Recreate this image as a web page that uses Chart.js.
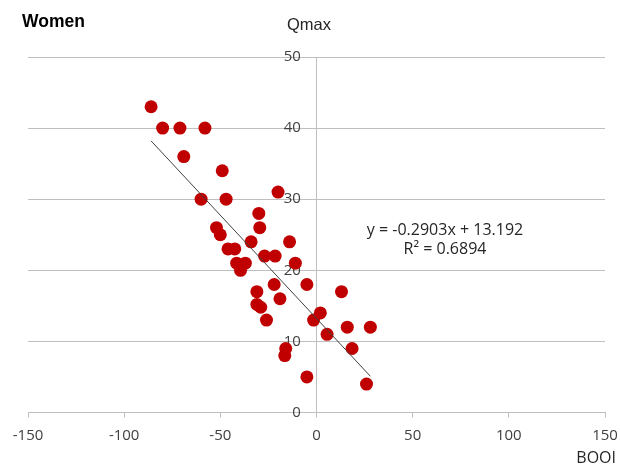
<!DOCTYPE html>
<html>
<head>
<meta charset="utf-8">
<script src="https://cdn.jsdelivr.net/npm/chart.js@4.4.1/dist/chart.umd.min.js"></script>
<style>
  html, body { margin: 0; padding: 0; background: #fff; }
</style>
</head>
<body>
<canvas id="scatter" width="620" height="466"></canvas>
<script>
  // BOOI (x) and Qmax (y) for each woman
  const booi = [-86, -80, -71, -58, -69, -49, -60, -47, -20, -30,
                -52, -50, -29.5, -34, -14, -46, -42.5, -27, -21.5, -41.5,
                -37, -39.5, -11, -5, -22, -31, 13, -19, -31, -29,
                -26, 2, -1.5, 5.5, 16, 28, 18.5, -16, -16.5, -5, 26];
  const qmax = [43, 40, 40, 40, 36, 34, 30, 30, 31, 28,
                26, 25, 26, 24, 24, 23, 23, 22, 22, 21,
                21, 20, 21, 18, 18, 17, 17, 16, 15.2, 14.8,
                13, 14, 13, 11, 12, 12, 9, 9, 8, 5, 4];

  // linear trendline ends
  const trendX = [-86, 28];
  const trendY = [38.2, 5.1];

  const xTicks = [-150, -100, -50, 0, 50, 100, 150];
  const yTicks = [0, 10, 20, 30, 40, 50];

  const eqLine1 = 'y = -0.2903x + 13.192';
  const eqLine2 = 'R\u00b2 = 0.6894';

  const points = booi.map((x, i) => ({x: x, y: qmax[i]}));
  const trend = trendX.map((x, i) => ({x: x, y: trendY[i]}));

  const gridGray = '#bfbfbf';
  const tickFont = {family: '"Open Sans"', size: 15};

  const textPlugin = {
    id: 'chartTexts',
    afterDraw(chart) {
      const ctx = chart.ctx;
      ctx.save();
      ctx.textBaseline = 'middle';

      ctx.fillStyle = '#000';
      ctx.font = 'bold 17.5px "Liberation Sans"';
      ctx.textAlign = 'left';
      ctx.fillText('Women', 22, 22);

      ctx.fillStyle = '#262626';
      ctx.font = '16.5px "Liberation Sans"';
      ctx.textAlign = 'center';
      ctx.fillText('Qmax', 309, 25.5);

      ctx.font = '16px "Open Sans"';
      ctx.textAlign = 'right';
      ctx.fillText('BOOI', 616, 458);

      ctx.textAlign = 'center';
      ctx.fillText(eqLine1, 445, 230);
      ctx.fillText(eqLine2, 445, 249);
      ctx.restore();
    }
  };

  const config = {
    type: 'scatter',
    data: {
      datasets: [{
        type: 'line',
        label: 'Linear (Qmax)',
        data: trend,
        borderColor: '#404040',
        borderWidth: 1,
        pointRadius: 0,
        fill: false
      }, {
        label: 'Qmax',
        data: points,
        backgroundColor: '#c00000',
        borderWidth: 0,
        pointRadius: 6.5,
        pointHoverRadius: 6.5
      }]
    },
    options: {
      responsive: false,
      animation: false,
      layout: {padding: {left: 28, right: 15, top: 57, bottom: 0}},
      plugins: {
        legend: {display: false},
        tooltip: {enabled: false}
      },
      scales: {
        x: {
          type: 'linear',
          position: 'bottom',
          min: -150,
          max: 150,
          afterBuildTicks: s => { s.ticks = xTicks.map(v => ({value: v})); },
          afterFit: s => {
            s.height = 53.5;
            s.paddingLeft = 0;
            s.paddingRight = 0;
          },
          grid: {drawOnChartArea: false, drawTicks: true, tickLength: 5, color: gridGray},
          border: {display: true, color: gridGray},
          ticks: {font: tickFont, color: '#404040', padding: 9, maxRotation: 0}
        },
        y: {
          type: 'linear',
          position: {x: 0},
          min: 0,
          max: 50,
          afterBuildTicks: s => { s.ticks = yTicks.map(v => ({value: v})); },
          grid: {drawTicks: false, color: gridGray},
          border: {display: true, color: gridGray},
          // centred axis puts labels flush on the line, pad them with spaces
          ticks: {font: tickFont, color: '#404040', callback: v => v + '    '}
        }
      }
    },
    plugins: [textPlugin]
  };

  const chart = new Chart(document.getElementById('scatter'), config);
</script>
</body>
</html>
